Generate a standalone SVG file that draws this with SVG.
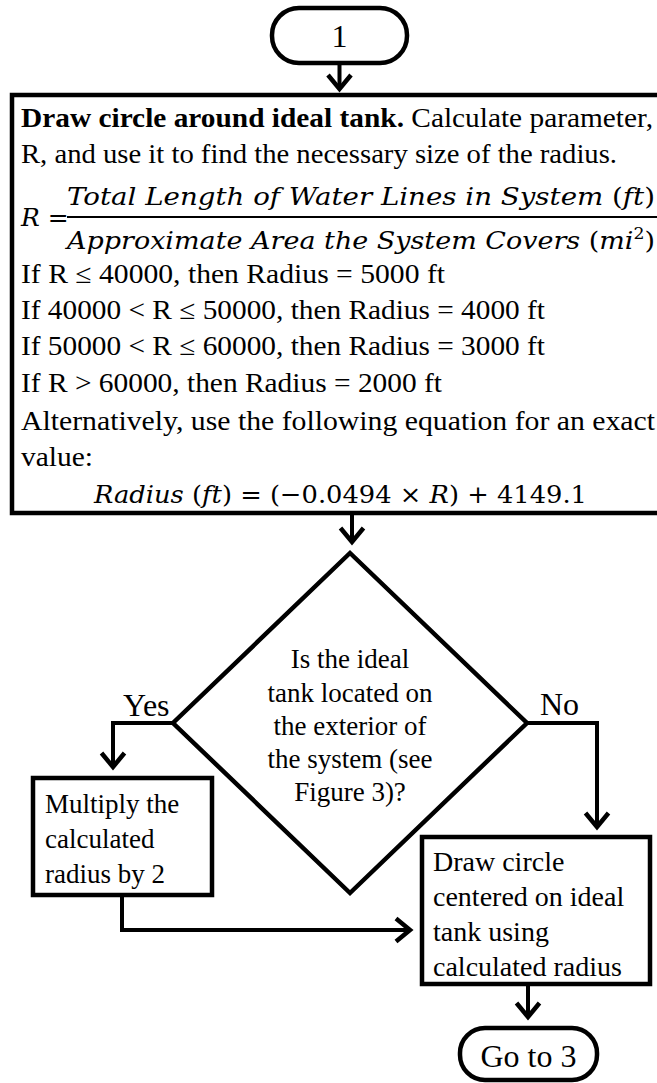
<svg xmlns="http://www.w3.org/2000/svg" width="657" height="1083" viewBox="0 0 657 1083">
<style>
.t{font-family:"Liberation Serif","Times New Roman",serif;font-size:27px;fill:#000}
.big{font-size:32px}
.m{font-family:"DejaVu Serif",serif;font-size:25px;fill:#000}
.i{font-style:italic}
.shape{fill:#fff;stroke:#000;stroke-width:4.5}
.conn{fill:none;stroke:#000;stroke-width:4}
</style>
<defs>
<marker id="arr" markerUnits="userSpaceOnUse" markerWidth="24" markerHeight="28" viewBox="0 0 24 28" refX="16" refY="14" orient="auto" overflow="visible">
<path d="M2,2.5 L16,14 L2,25.5" fill="none" stroke="#000" stroke-width="4.5"/>
</marker>
</defs>
<rect width="657" height="1083" fill="#fff"/>

<g id="start">
<rect class="shape" x="272" y="8" width="135" height="55" rx="27" ry="27"/>
<text class="t big" x="339.5" y="47" text-anchor="middle">1</text>
</g>

<g id="calc">
<rect class="shape" x="12" y="95" width="665" height="418" stroke-width="5"/>
<text class="t" x="21" y="127" textLength="632" lengthAdjust="spacingAndGlyphs"><tspan font-weight="bold">Draw circle around ideal tank.</tspan> Calculate parameter,</text>
<text class="t" x="21" y="163" textLength="596" lengthAdjust="spacingAndGlyphs">R, and use it to find the necessary size of the radius.</text>
<text class="m" x="21" y="226"><tspan class="i">R</tspan> =</text>
<text class="m" x="67" y="205" textLength="588" lengthAdjust="spacingAndGlyphs"><tspan class="i">Total Length of Water Lines in System </tspan>(<tspan class="i">ft</tspan>)</text>
<line x1="67" y1="217" x2="660" y2="217" stroke="#000" stroke-width="2"/>
<text class="m" x="67" y="249" textLength="588" lengthAdjust="spacingAndGlyphs"><tspan class="i">Approximate Area the System Covers </tspan>(<tspan class="i">mi</tspan><tspan font-size="16" dy="-10">2</tspan><tspan dy="10">)</tspan></text>
<text class="t" x="21" y="283" textLength="424" lengthAdjust="spacingAndGlyphs">If R ≤ 40000, then Radius = 5000 ft</text>
<text class="t" x="21" y="319" textLength="524" lengthAdjust="spacingAndGlyphs">If 40000 &lt; R ≤ 50000, then Radius = 4000 ft</text>
<text class="t" x="21" y="355" textLength="524" lengthAdjust="spacingAndGlyphs">If 50000 &lt; R ≤ 60000, then Radius = 3000 ft</text>
<text class="t" x="21" y="392" textLength="421" lengthAdjust="spacingAndGlyphs">If R &gt; 60000, then Radius = 2000 ft</text>
<text class="t" x="21" y="430" textLength="634" lengthAdjust="spacingAndGlyphs">Alternatively, use the following equation for an exact</text>
<text class="t" x="21" y="466" textLength="72" lengthAdjust="spacingAndGlyphs">value:</text>
<text class="m" x="94" y="503" textLength="493" lengthAdjust="spacingAndGlyphs"><tspan class="i">Radius </tspan>(<tspan class="i">ft</tspan>) = (−0.0494 × <tspan class="i">R</tspan>) + 4149.1</text>
</g>

<g id="decision">
<polygon class="shape" points="350,553 527,723 350,893 173,723"/>
<text class="t" text-anchor="middle" x="350" y="668">Is the ideal</text>
<text class="t" text-anchor="middle" x="350" y="702">tank located on</text>
<text class="t" text-anchor="middle" x="350" y="735">the exterior of</text>
<text class="t" text-anchor="middle" x="350" y="768">the system (see</text>
<text class="t" text-anchor="middle" x="350" y="801">Figure 3)?</text>
</g>

<g id="multiply">
<rect class="shape" x="33" y="778" width="179" height="117"/>
<text class="t" x="45" y="813">Multiply the</text>
<text class="t" x="45" y="848">calculated</text>
<text class="t" x="45" y="883">radius by 2</text>
</g>

<g id="drawcircle">
<rect class="shape" x="422" y="837" width="228" height="147"/>
<text class="t" x="433" y="871" style="font-size:28px">Draw circle</text>
<text class="t" x="433" y="906" style="font-size:28px">centered on ideal</text>
<text class="t" x="433" y="941" style="font-size:28px">tank using</text>
<text class="t" x="433" y="976" style="font-size:28px">calculated radius</text>
</g>

<g id="end">
<rect class="shape" x="460" y="1028" width="137" height="52" rx="25" ry="25"/>
<text class="t big" x="528.5" y="1067" text-anchor="middle">Go to 3</text>
</g>

<g id="labels">
<text class="t big" x="123" y="716">Yes</text>
<text class="t big" x="540" y="715">No</text>
</g>

<g id="connectors">
<path class="conn" d="M339.5,63 V89" marker-end="url(#arr)"/>
<path class="conn" d="M352,513 V542" marker-end="url(#arr)"/>
<path class="conn" d="M173,723 H113 V767" marker-end="url(#arr)"/>
<path class="conn" d="M527,723 H597 V827" marker-end="url(#arr)"/>
<path class="conn" d="M122,895 V930 H410" marker-end="url(#arr)"/>
<path class="conn" d="M528,984 V1017" marker-end="url(#arr)"/>
</g>
</svg>
